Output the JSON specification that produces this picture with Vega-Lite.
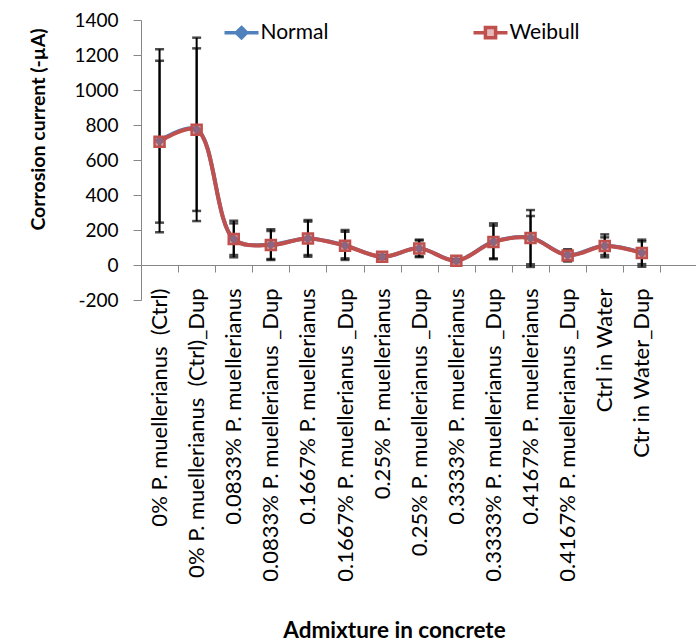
{
  "$schema": "https://vega.github.io/schema/vega-lite/v6.json",
  "autosize": "none",
  "width": 555,
  "height": 280,
  "padding": {"left": 141, "top": 20, "right": 0, "bottom": 341},
  "background": "white",
  "config": {
    "view": {"stroke": null},
    "font": "Lato",
    "axis": {"labelFont": "Lato", "titleFont": "Lato", "labelColor": "#000", "titleColor": "#000", "domainColor": "#868686", "tickColor": "#868686", "grid": false},
    "legend": {"labelFont": "Lato", "labelColor": "#000"}
  },
  "data": {
    "values": [
      {"cat": "0% P. muellerianus\u00a0 (Ctrl)", "series": "Normal", "value": 710, "low": 187, "high": 1233},
      {"cat": "0% P. muellerianus\u00a0 (Ctrl)_Dup", "series": "Normal", "value": 775, "low": 251, "high": 1299},
      {"cat": "0.0833% P. muellerianus", "series": "Normal", "value": 148, "low": 44, "high": 253},
      {"cat": "0.0833% P. muellerianus _Dup", "series": "Normal", "value": 116, "low": 29, "high": 204},
      {"cat": "0.1667% P. muellerianus", "series": "Normal", "value": 152, "low": 47, "high": 257},
      {"cat": "0.1667% P. muellerianus _Dup", "series": "Normal", "value": 112, "low": 29, "high": 200},
      {"cat": "0.25% P. muellerianus", "series": "Normal", "value": 47, "low": 37, "high": 57},
      {"cat": "0.25% P. muellerianus _Dup", "series": "Normal", "value": 95, "low": 45, "high": 145},
      {"cat": "0.3333% P. muellerianus", "series": "Normal", "value": 25, "low": 17, "high": 33},
      {"cat": "0.3333% P. muellerianus _Dup", "series": "Normal", "value": 133, "low": 33, "high": 238},
      {"cat": "0.4167% P. muellerianus", "series": "Normal", "value": 156, "low": -11, "high": 314},
      {"cat": "0.4167% P. muellerianus _Dup", "series": "Normal", "value": 57, "low": 20, "high": 90},
      {"cat": "Ctrl in Water", "series": "Normal", "value": 110, "low": 44, "high": 175},
      {"cat": "Ctr in Water_Dup", "series": "Normal", "value": 70, "low": -10, "high": 145},
      {"cat": "0% P. muellerianus\u00a0 (Ctrl)", "series": "Weibull", "value": 705, "low": 242, "high": 1167},
      {"cat": "0% P. muellerianus\u00a0 (Ctrl)_Dup", "series": "Weibull", "value": 773, "low": 309, "high": 1238},
      {"cat": "0.0833% P. muellerianus", "series": "Weibull", "value": 148, "low": 57, "high": 238},
      {"cat": "0.0833% P. muellerianus _Dup", "series": "Weibull", "value": 114, "low": 34, "high": 194},
      {"cat": "0.1667% P. muellerianus", "series": "Weibull", "value": 152, "low": 57, "high": 248},
      {"cat": "0.1667% P. muellerianus _Dup", "series": "Weibull", "value": 110, "low": 38, "high": 190},
      {"cat": "0.25% P. muellerianus", "series": "Weibull", "value": 47, "low": 39, "high": 55},
      {"cat": "0.25% P. muellerianus _Dup", "series": "Weibull", "value": 95, "low": 50, "high": 140},
      {"cat": "0.3333% P. muellerianus", "series": "Weibull", "value": 24, "low": 18, "high": 30},
      {"cat": "0.3333% P. muellerianus _Dup", "series": "Weibull", "value": 131, "low": 38, "high": 225},
      {"cat": "0.4167% P. muellerianus", "series": "Weibull", "value": 155, "low": 4, "high": 280},
      {"cat": "0.4167% P. muellerianus _Dup", "series": "Weibull", "value": 55, "low": 25, "high": 85},
      {"cat": "Ctrl in Water", "series": "Weibull", "value": 108, "low": 57, "high": 158},
      {"cat": "Ctr in Water_Dup", "series": "Weibull", "value": 68, "low": 5, "high": 135}
    ]
  },
  "encoding": {
    "x": {
      "field": "cat",
      "type": "nominal",
      "sort": null,
      "scale": {"type": "band", "paddingInner": 0, "paddingOuter": 0.48, "align": 0},
      "axis": {
        "offset": -35,
        "tickBand": "extent",
        "tickSize": 7,
        "labelAngle": 270,
        "labelAlign": "right",
        "labelBaseline": "middle",
        "labelPadding": 16,
        "labelFontSize": 22,
        "labelLimit": 400,
        "title": "Admixture in concrete",
        "titleFontSize": 22.5,
        "titleFontWeight": "bold",
        "titleAngle": 0,
        "titleAlign": "center",
        "titleBaseline": "alphabetic",
        "titleX": 253,
        "titleY": 372
      }
    },
    "y": {
      "type": "quantitative",
      "scale": {"domain": [-200, 1400], "nice": false, "zero": false},
      "axis": {
        "values": [-200, 0, 200, 400, 600, 800, 1000, 1200, 1400],
        "labelExpr": "'' + datum.value",
        "tickSize": 8,
        "labelPadding": 15,
        "labelFontSize": 19,
        "title": "Corrosion current (-µA)",
        "titleFontSize": 19.5,
        "titleFontWeight": "bold",
        "titleAngle": 270,
        "titleAlign": "center",
        "titleBaseline": "bottom",
        "titleX": -93,
        "titleY": 109
      }
    }
  },
  "layer": [
    {
      "mark": {"type": "line", "strokeWidth": 4, "interpolate": "catmull-rom"},
      "encoding": {
        "y": {"field": "value"},
        "color": {
          "field": "series",
          "type": "nominal",
          "scale": {"domain": ["Normal", "Weibull"], "range": ["#4f81bd", "#c0504d"]},
          "legend": {
            "title": null,
            "orient": "none",
            "direction": "horizontal",
            "legendX": 90,
            "legendY": 2,
            "padding": 0,
            "symbolSize": 289,
            "labelOffset": 8.5,
            "labelFontSize": 21,
            "columnPadding": 137,
            "encode": {
              "symbols": {
                "update": {
                  "shape": {"signal": "datum.value === 'Normal' ? 'M-2,0H2M0,-0.6L0.6,0L0,0.6L-0.6,0Z' : 'M-2,0H-0.6M0.6,0H2M-0.6,-0.6H0.6V0.6H-0.6Z'"},
                  "fill": {"signal": "datum.value === 'Normal' ? '#4f81bd' : '#e6b9b8'"},
                  "stroke": {"signal": "datum.value === 'Normal' ? '#4f81bd' : '#c0504d'"},
                  "strokeWidth": {"value": 3.5},
                  "opacity": {"value": 1}
                }
              }
            }
          }
        }
      }
    },
    {
      "mark": {"type": "rule", "color": "black", "strokeWidth": 2},
      "encoding": {"y": {"field": "low"}, "y2": {"field": "high"}}
    },
    {
      "mark": {"type": "tick", "color": "black", "thickness": 2.5, "size": 9},
      "encoding": {"y": {"field": "low"}}
    },
    {
      "mark": {"type": "tick", "color": "black", "thickness": 2.5, "size": 9},
      "encoding": {"y": {"field": "high"}}
    },
    {
      "transform": [{"filter": "datum.series === 'Normal'"}],
      "mark": {"type": "point", "shape": "diamond", "filled": true, "size": 110, "color": "#4f81bd", "opacity": 1},
      "encoding": {"y": {"field": "value"}}
    },
    {
      "transform": [{"filter": "datum.series === 'Weibull'"}],
      "mark": {"type": "point", "shape": "square", "filled": false, "size": 100, "stroke": "#c0504d", "strokeWidth": 2.5, "fill": "#c0504d", "fillOpacity": 0.55, "opacity": 1},
      "encoding": {"y": {"field": "value"}}
    }
  ]
}
